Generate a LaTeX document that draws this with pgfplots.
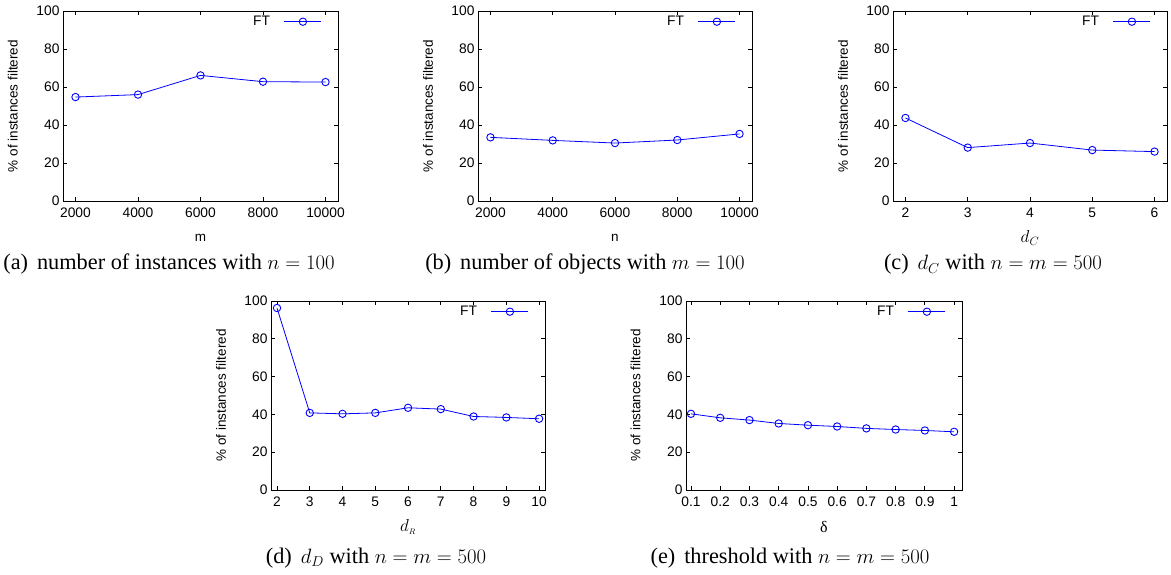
\documentclass[border=0pt]{standalone}
\usepackage{fontspec}
\setmainfont{Liberation Serif}
\newfontfamily\axfont{Liberation Sans}
\usepackage{pgfplots}
\pgfplotsset{compat=1.18}
\definecolor{ftblue}{RGB}{0,0,255}
\pgfplotsset{
  ftline/.style={color=ftblue, line width=0.8pt, mark=o, mark size=3.7pt,
    mark options={solid, line width=0.9pt}},
  ftaxis/.style={
    scale only axis, width=274pt, height=190pt,
    ymin=0, ymax=100, ytick={0,20,40,60,80,100},
    tick align=inside, major tick length=4pt,
    axis line style={line width=0.9pt},
    tick style={line width=0.8pt, black},
    /pgf/number format/assume math mode=true,
    /pgf/number format/1000 sep={},
    scaled x ticks=false,
    tick label style={font=\axfont\fontsize{13.8}{15}\selectfont},
    xticklabel style={yshift=-3pt},
    label style={font=\axfont\fontsize{13.5}{15}\selectfont},
    ylabel={\% of instances filtered},
    ylabel style={at={(axis description cs:-0.1825,0.5)}, anchor=center},
    xlabel style={at={(axis description cs:0.5,-0.195)}, anchor=center},
    legend plot pos=right,
    legend style={at={(axis description cs:1,1)}, anchor=north east,
      draw=none, fill=none, xshift=-13pt, yshift=-1pt,
      font=\axfont\fontsize{13.8}{15}\selectfont,
      /tikz/every odd column/.append style={column sep=12pt}},
    legend image code/.code={\draw[mark repeat=2,mark phase=2]
      plot coordinates {(0pt,0pt) (18.5pt,0pt) (37pt,0pt)};},
  },
}
\tikzset{subcap/.style={anchor=base, font=\fontsize{22.3}{24}\selectfont}}

\begin{document}
\begin{tikzpicture}
\useasboundingbox (0,0) rectangle (1171pt,574pt);

% (a)
\begin{axis}[ftaxis, at={(63pt,373pt)}, anchor=south west, width=275pt,
  xmin=1600, xmax=10400, xtick={2000,4000,6000,8000,10000}, xlabel={m}]
  \addplot[ftline] coordinates {(2000,54.7) (4000,56.0) (6000,66.1) (8000,62.8) (10000,62.6)};
  \addlegendentry{FT}
\end{axis}

% (b)
\begin{axis}[ftaxis, at={(478pt,373pt)}, anchor=south west,
  xmin=1600, xmax=10400, xtick={2000,4000,6000,8000,10000}, xlabel={n}]
  \addplot[ftline] coordinates {(2000,33.5) (4000,31.9) (6000,30.5) (8000,32.1) (10000,35.3)};
  \addlegendentry{FT}
\end{axis}

% (c)
\begin{axis}[ftaxis, at={(893pt,373pt)}, anchor=south west,
  xmin=1.8, xmax=6.2, xtick={2,3,4,5,6}, xlabel={\fontsize{17}{20}\selectfont$d_C$}]
  \addplot[ftline] coordinates {(2,43.7) (3,28.1) (4,30.5) (5,26.8) (6,26.0)};
  \addlegendentry{FT}
\end{axis}

% (d)
\begin{axis}[ftaxis, at={(271pt,84pt)}, anchor=south west, height=189pt,
  xmin=1.817, xmax=10.18, xtick={2,3,4,5,6,7,8,9,10},
  xlabel={\fontsize{17}{20}\selectfont$d_{\scriptscriptstyle R}$}]
  \addplot[ftline] coordinates {(2,96.3) (3,40.8) (4,40.3) (5,40.8) (6,43.5) (7,42.8) (8,38.9) (9,38.4) (10,37.7)};
  \addlegendentry{FT}
\end{axis}

% (e)
\begin{axis}[ftaxis, at={(686pt,84pt)}, anchor=south west, width=276pt, height=189pt,
  xmin=0.083, xmax=1.027, xtick={0.1,0.2,0.3,0.4,0.5,0.6,0.7,0.8,0.9,1},
  xticklabels={0.1,0.2,0.3,0.4,0.5,0.6,0.7,0.8,0.9,1},
  xlabel={\rmfamily\fontsize{16}{20}\selectfont δ}]
  \addplot[ftline] coordinates {(0.1,40.3) (0.2,38.2) (0.3,37.0) (0.4,35.2) (0.5,34.3) (0.6,33.6) (0.7,32.6) (0.8,32.0) (0.9,31.5) (1,30.8)};
  \addlegendentry{FT}
\end{axis}

\node[subcap] at (169pt,304pt) {(a)\hspace{0.4em}number of instances with $n = 100$};
\node[subcap] at (585pt,304pt) {(b)\hspace{0.4em}number of objects with $m = 100$};
\node[subcap] at (993pt,304pt) {(c)\hspace{0.4em}$d_C$ with $n = m = 500$};
\node[subcap] at (376pt,11pt) {(d)\hspace{0.4em}$d_D$ with $n = m = 500$};
\node[subcap] at (790pt,11pt) {(e)\hspace{0.4em}threshold with $n = m = 500$};
\end{tikzpicture}
\end{document}
